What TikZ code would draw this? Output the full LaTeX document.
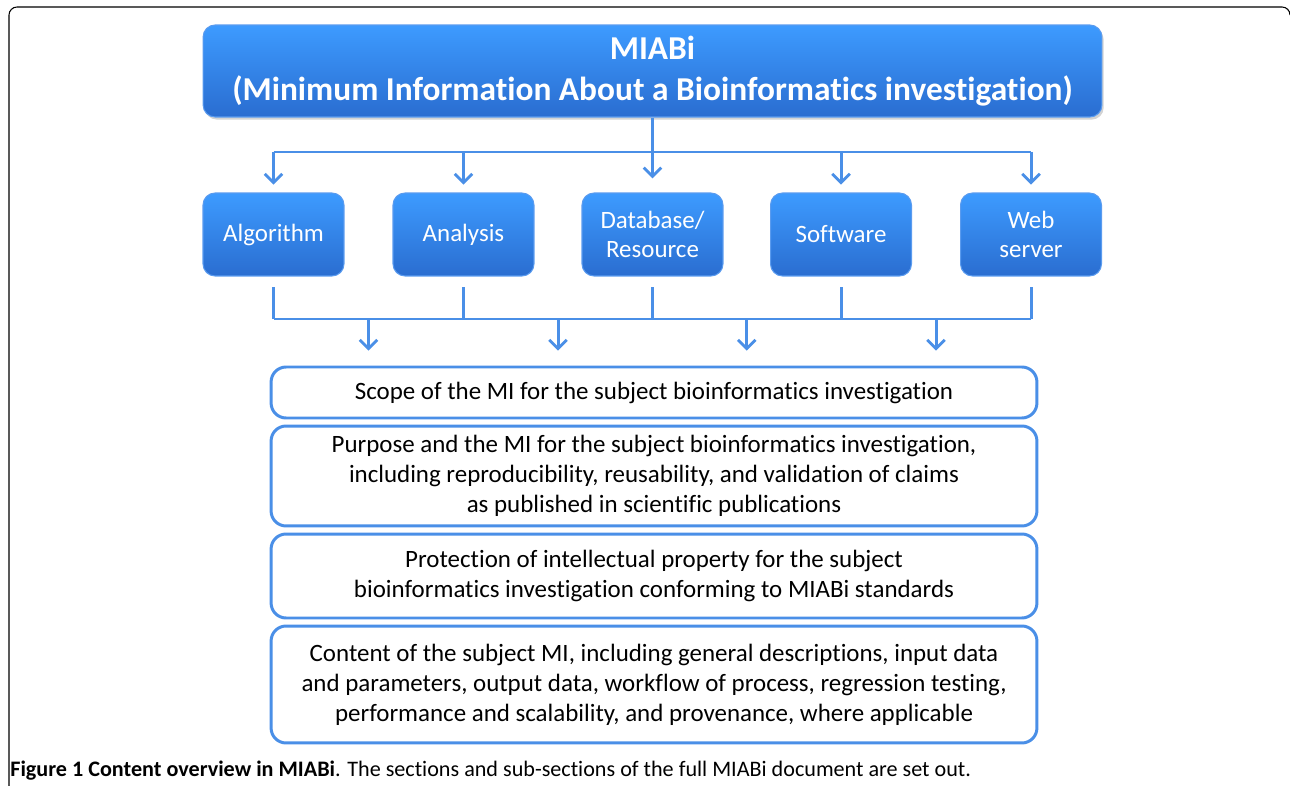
\documentclass[tikz,border=0pt]{standalone}
\usepackage{fontspec}
\setmainfont{Carlito}[Ligatures=NoCommon]
\usetikzlibrary{calc,arrows.meta,shadows}
\definecolor{miblue}{HTML}{4A8FE7}
\definecolor{boxtop}{HTML}{3D9BFF}
\definecolor{boxbot}{HTML}{2A6DD0}
\definecolor{edgeblue}{HTML}{5A9BEF}
\tikzset{
  link/.style={draw=miblue,line width=1.7pt,-{Straight Barb[length=5pt,width=10pt,line width=1.6pt]}},
  bus/.style={draw=miblue,line width=1.7pt},
  bluebox/.style={rounded corners=0.24cm,top color=boxtop,bottom color=boxbot,draw=edgeblue,line width=0.6pt,text=white,align=center,inner sep=0pt},
  topicbox/.style={bluebox,minimum width=2.82cm,minimum height=1.66cm,font=\fontsize{14.2}{17}\selectfont},
  sectbox/.style={draw=miblue,line width=1.7pt,rounded corners=0.3cm,fill=white,minimum width=15.32cm,align=center,inner sep=0pt,font=\fontsize{14.2}{17}\selectfont}
}
\begin{document}
\begin{tikzpicture}[x=0.02cm,y=-0.02cm]
  \useasboundingbox (0,0) rectangle (1290,786);
  % frame of the figure
  \draw[line width=0.6pt,rounded corners=0.16cm] (9,786) -- (9,7) -- (1290,7) -- (1290,14);
  % title
  \node[bluebox,minimum width=17.98cm,minimum height=1.84cm,drop shadow={opacity=0.35,shadow xshift=1pt,shadow yshift=-1.5pt},font=\bfseries\fontsize{19}{23.3}\selectfont] (title) at (652.5,71) {MIABi\\(Minimum Information About a Bioinformatics investigation)};
  % topics
  \node[topicbox] (alg) at (273.5,234.5) {Algorithm};
  \node[topicbox] (ana) at (463.5,234.5) {Analysis};
  \node[topicbox] (db) at (652.5,234.5) {Database/\\Resource};
  \node[topicbox] (soft) at (841,234.5) {Software};
  \node[topicbox] (web) at (1031,234.5) {Web\\server};
  % sections
  \node[sectbox,minimum height=1.02cm] (scope) at (654,392.5) {Scope of the MI for the subject bioinformatics investigation};
  \node[sectbox,minimum height=2cm] (purpose) at (654,476) {Purpose and the MI for the subject bioinformatics investigation,\\including reproducibility, reusability, and validation of claims\\as published in scientific publications};
  \node[sectbox,minimum height=1.68cm] (protect) at (654,576) {Protection of intellectual property for the subject\\bioinformatics investigation conforming to MIABi standards};
  \node[sectbox,minimum height=2.34cm] (content) at (654,684.5) {Content of the subject MI, including general descriptions, input data\\and parameters, output data, workflow of process, regression testing,\\performance and scalability, and provenance, where applicable};
  % upper connectors
  \coordinate (busA) at (652.5,152);
  \draw[bus] (alg.north |- busA) -- (web.north |- busA);
  \draw[link,shorten >=8pt] (title.south) -- (db.north);
  \foreach \t in {alg,ana,soft,web}
    \draw[link,shorten >=4.5pt] (\t.north |- busA) -- (\t.north);
  % lower connectors
  \coordinate (busB) at (652.5,319);
  \draw[bus] (alg.south |- busB) -- (web.south |- busB);
  \foreach \t in {alg,ana,db,soft,web}
    \draw[bus,shorten <=6pt] (\t.south) -- (\t.south |- busB);
  \foreach \a/\b in {alg/ana,ana/db,db/soft,soft/web} {
    \coordinate (mid) at ($(\a.south)!0.5!(\b.south)$);
    \draw[link,shorten >=8.5pt] (mid |- busB) -- (mid |- scope.north);
  }
  % caption
  \node[anchor=west,inner sep=0pt,font=\fontsize{12.6}{15}\selectfont] (caption) at (10,771) {\textbf{Figure 1 Content overview in MIABi}. The sections and sub-sections of the full MIABi document are set out.};
\end{tikzpicture}
\end{document}
